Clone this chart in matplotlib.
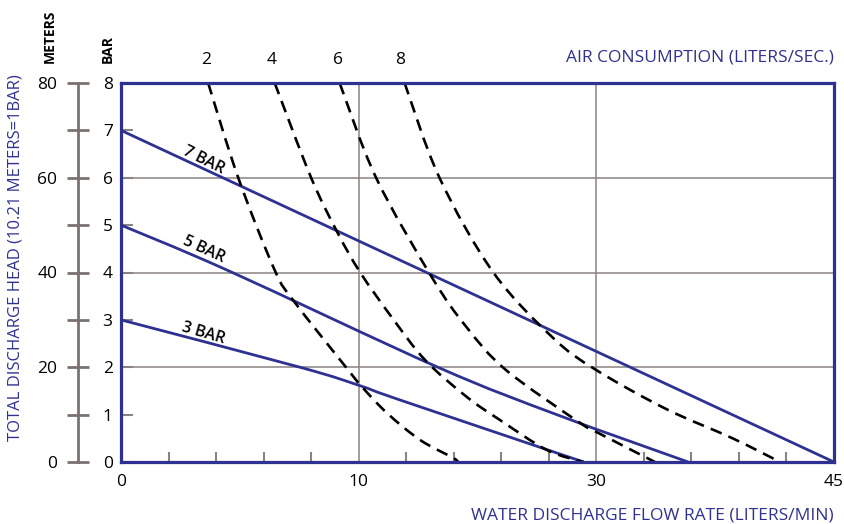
import matplotlib
matplotlib.use('Agg')
import matplotlib.pyplot as plt
from matplotlib.path import Path
from matplotlib.patches import PathPatch
import numpy as np

plt.rcParams['font.family'] = ['Open Sans', 'DejaVu Sans']

# water flow (l/min) vs head (bar) for each inlet pressure
bar7_x = [0, 45]
bar7_y = [7, 0]
bar5_x = [0, 6.7, 20.0, 27.5, 35.8]
bar5_y = [5, 4.05, 2.0, 1.0, 0]
bar3_x = [0, 11.3, 15.0, 17.6, 29.2]
bar3_y = [3, 2.0, 1.62, 1.31, 0]
bar_names = ['7 BAR', '5 BAR', '3 BAR']
bar_label_x = [5.2, 5.2, 5.2]
bar_label_y = [6.37, 4.49, 2.72]

# air consumption curves (liters/sec)
air2_x = [5.5, 7.4, 9.7, 10.9, 14.2, 15.2, 16.8, 18.9, 21.0, 21.2]
air2_y = [8, 6, 4.05, 3.4, 2.0, 1.59, 1.03, 0.46, 0.08, 0]
air4_x = [9.7, 12.0, 13.7, 15.1, 17.1, 19.2, 21.8, 23.9, 26.9, 29.2]
air4_y = [8, 6, 4.82, 4.0, 3.05, 2.15, 1.38, 0.89, 0.25, 0]
air6_x = [13.8, 16.1, 19.6, 21.8, 24.3, 29.0, 30.2, 33.7]
air6_y = [8, 6, 3.91, 2.85, 1.94, 0.82, 0.6, 0]
air8_x = [17.9, 20.1, 23.5, 27.3, 30.0, 34.4, 38.6, 41.6]
air8_y = [8, 6, 4.0, 2.61, 1.94, 1.12, 0.5, 0]
air_labels = ['2', '4', '6', '8']
air_label_x = [5.4, 9.5, 13.7, 17.6]

flow_ticks = [0, 15, 30, 45]
flow_labels = ['0', '10', '30', '45']
flow_minor = np.arange(0, 46, 3)
bar_ticks = list(range(0, 9))
meter_major = [0, 20, 40, 60, 80]
meter_minor = [10, 30, 50, 70]
grid_x = [15, 30]
grid_y = [2, 4, 6]

NAVY = '#2e3192'
GRAY = '#8a8480'
DGRAY = '#7a726e'


def smooth_path(xs, ys):
    # cubic bezier through the read points (catmull-rom style handles)
    p = np.column_stack([xs, ys]).astype(float)
    n = len(p)
    verts = [p[0]]
    codes = [Path.MOVETO]
    for i in range(n - 1):
        a = p[i - 1] if i > 0 else p[i]
        b = p[i + 2] if i + 2 < n else p[i + 1]
        c1 = p[i] + (p[i + 1] - a) / 6
        c2 = p[i + 1] - (b - p[i]) / 6
        verts += [c1, c2, p[i + 1]]
        codes += [Path.CURVE4] * 3
    return Path(verts, codes)


fig = plt.figure(figsize=(8.45, 5.24), dpi=100)
ax = fig.add_axes([121/845, 62/524, 713/845, 379/524])
ax.set_xlim(0, 45)
ax.set_ylim(0, 8)

for gx in grid_x:
    ax.axvline(gx, color=GRAY, lw=1.1, zorder=1)
for gy in grid_y:
    ax.axhline(gy, color=GRAY, lw=1.1, zorder=1)

lines = [(bar7_x, bar7_y), (bar5_x, bar5_y), (bar3_x, bar3_y)]
for xs, ys in lines:
    ax.add_patch(PathPatch(smooth_path(xs, ys), fill=False, edgecolor=NAVY,
                           lw=2.0, zorder=3, clip_on=False))

for xs, ys in [(air2_x, air2_y), (air4_x, air4_y), (air6_x, air6_y), (air8_x, air8_y)]:
    ax.add_patch(PathPatch(smooth_path(xs, ys), fill=False, edgecolor='black',
                           lw=1.9, linestyle=(0, (4.5, 2.8)), zorder=4))

# pressure labels along the lines
for name, lx, ly, (xs, ys) in zip(bar_names, bar_label_x, bar_label_y, lines):
    p0 = ax.transData.transform((xs[0], ys[0]))
    p1 = ax.transData.transform((xs[1], ys[1]))
    ang = np.degrees(np.arctan2(p1[1] - p0[1], p1[0] - p0[0]))
    ax.text(lx, ly, name, rotation=ang - 1.5, ha='center', va='center',
            fontsize=11.5, fontweight='semibold', color='black', rotation_mode='anchor')

for s in ax.spines.values():
    s.set_color(NAVY)
    s.set_linewidth(2.3)
    s.set_zorder(5)

ax.set_xticks(flow_ticks)
ax.set_xticklabels(flow_labels)
ax.set_xticks(flow_minor, minor=True)
ax.tick_params(axis='x', which='major', length=0, pad=9, labelsize=12.5)
ax.tick_params(axis='x', which='minor', direction='in', length=7, width=1.5, color=GRAY)
ax.set_yticks(bar_ticks)
ax.tick_params(axis='y', which='major', direction='in', length=8.5, width=1.5,
               color=GRAY, pad=6, labelsize=12.5)

# top axis: air consumption
sec = ax.secondary_xaxis('top')
sec.set_xticks(air_label_x)
sec.set_xticklabels(air_labels)
sec.tick_params(length=0, pad=11, labelsize=12.5)
sec.spines['top'].set_visible(False)

# meters axis on the far left
ax2 = ax.twinx()
ax2.set_ylim(0, 80)
ax2.yaxis.tick_left()
for k in ['right', 'top', 'bottom']:
    ax2.spines[k].set_visible(False)
ax2.spines['left'].set_position(('outward', 31))
ax2.spines['left'].set_color(DGRAY)
ax2.spines['left'].set_linewidth(2)
ax2.set_yticks(meter_major)
ax2.set_yticks(meter_minor, minor=True)
ax2.tick_params(axis='y', which='both', direction='inout', length=16.5, width=2,
                color=DGRAY, pad=6.5, labelsize=12.5)

fig.text(50/845, 1 - 36/524, 'METERS', rotation=90, ha='center', va='center',
         fontsize=10, fontweight='bold')
fig.text(108/845, 1 - 63/524, 'BAR', rotation=90, ha='center', va='bottom',
         fontsize=10, fontweight='bold')
fig.text(834/845, 1 - 58/524, 'AIR CONSUMPTION (LITERS/SEC.)', ha='right', va='center',
         fontsize=12.5, color=NAVY)
fig.text(834/845, 1 - 515/524, 'WATER DISCHARGE FLOW RATE (LITERS/MIN)', ha='right',
         va='center', fontsize=12.5, color=NAVY)
fig.text(16/845, 1 - 258/524, 'TOTAL DISCHARGE HEAD (10.21 METERS=1BAR)', rotation=90,
         ha='center', va='center', fontsize=12, color=NAVY)

fig.savefig('out.png', dpi=100)
